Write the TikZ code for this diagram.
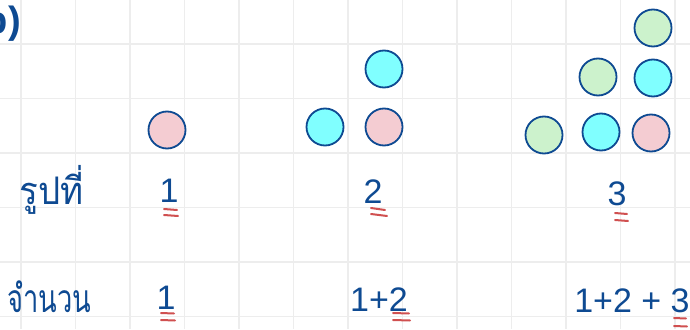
\documentclass[tikz,border=0pt]{standalone}
\usepackage{fontspec}
\newfontfamily\thaifont[Script=Thai]{Loma}
\newfontfamily\digfont{Liberation Sans}
\begin{document}
\begin{tikzpicture}[x=1pt,y=-1pt,
  gridline/.style={draw=black!7,line width=1.8pt},
  dot/.style={circle,draw=ink,line width=1.8pt,minimum size=37pt,inner sep=0pt},
  pinkdot/.style={dot,fill=dotpink},
  cyandot/.style={dot,fill=dotcyan},
  greendot/.style={dot,fill=dotgreen},
  hand/.style={text=ink,inner sep=0pt},
  uline/.style={draw=ured,line width=2pt,line cap=round}]
\definecolor{ink}{HTML}{0E4A92}
\definecolor{dotpink}{HTML}{F4CCD2}
\definecolor{dotcyan}{HTML}{80FFFF}
\definecolor{dotgreen}{HTML}{CCF2CC}
\definecolor{ured}{HTML}{D05050}
\useasboundingbox (0,0) rectangle (690,329);
\fill[white] (0,0) rectangle (690,329);
% grid
\foreach \gx in {21,75.5,130,184.5,239,293.5,348,402.5,457,511.5,566,620.5,675}
  \draw[gridline] (\gx,0) -- (\gx,329);
\foreach \gy in {44,98.5,153,207.5,262,316.5}
  \draw[gridline] (0,\gy) -- (690,\gy);
% label b)
\node[hand,anchor=east,font=\digfont\bfseries\fontsize{38}{38}\selectfont] (lbl) at (21,24) {b)};
% circles, figure 1
\node[pinkdot] (a1) at (167,130) {};
% figure 2
\node[cyandot] (b1) at (384,69) {};
\node[cyandot] (b2) at (325,127) {};
\node[pinkdot] (b3) at (384,127) {};
% figure 3
\node[greendot] (c1) at (653,28) {};
\node[greendot] (c2) at (598,77) {};
\node[cyandot] (c3) at (653,78) {};
\node[greendot] (c4) at (544,135) {};
\node[cyandot] (c5) at (601,132) {};
\node[pinkdot] (c6) at (651,133) {};
% row labels
\node[hand,font=\thaifont\fontsize{38}{38}\selectfont,xscale=0.92] (t1) at (52,190) {รูปที่};
\node[hand,font=\thaifont\fontsize{39}{39}\selectfont,xscale=0.7] (t2) at (49,297) {จำนวน};
% numbers row 1
\node[hand,font=\digfont\fontsize{34}{34}\selectfont] (n1) at (169,191) {1};
\node[hand,font=\digfont\fontsize{34}{34}\selectfont] (n2) at (373,192) {2};
\node[hand,font=\digfont\fontsize{34}{34}\selectfont] (n3) at (617,194) {3};
% numbers row 2
\node[hand,font=\digfont\fontsize{34}{34}\selectfont] (m1) at (166,298) {1};
\node[hand,font=\digfont\fontsize{34}{34}\selectfont] (m2) at (379,300) {1+2};
\node[hand,font=\digfont\fontsize{34}{34}\selectfont] (m3) at (632,301) {1+2 + 3};
% red underlines
\draw[uline] (164,209) -- (177,210);
\draw[uline] (164,215) -- (178,216);
\draw[uline] (161,313) -- (174,313.5);
\draw[uline] (161,320) -- (175,320.5);
\draw[uline] (371,208) -- (385,210);
\draw[uline] (371,214) -- (387,216);
\draw[uline] (615,213) -- (627,214);
\draw[uline] (615,220) -- (628,221);
\draw[uline] (393,313) -- (409,313.5);
\draw[uline] (393,320) -- (410,320.5);
\draw[uline] (674,318) -- (686,318.5);
\draw[uline] (674,326) -- (687,326.5);
\end{tikzpicture}
\end{document}
